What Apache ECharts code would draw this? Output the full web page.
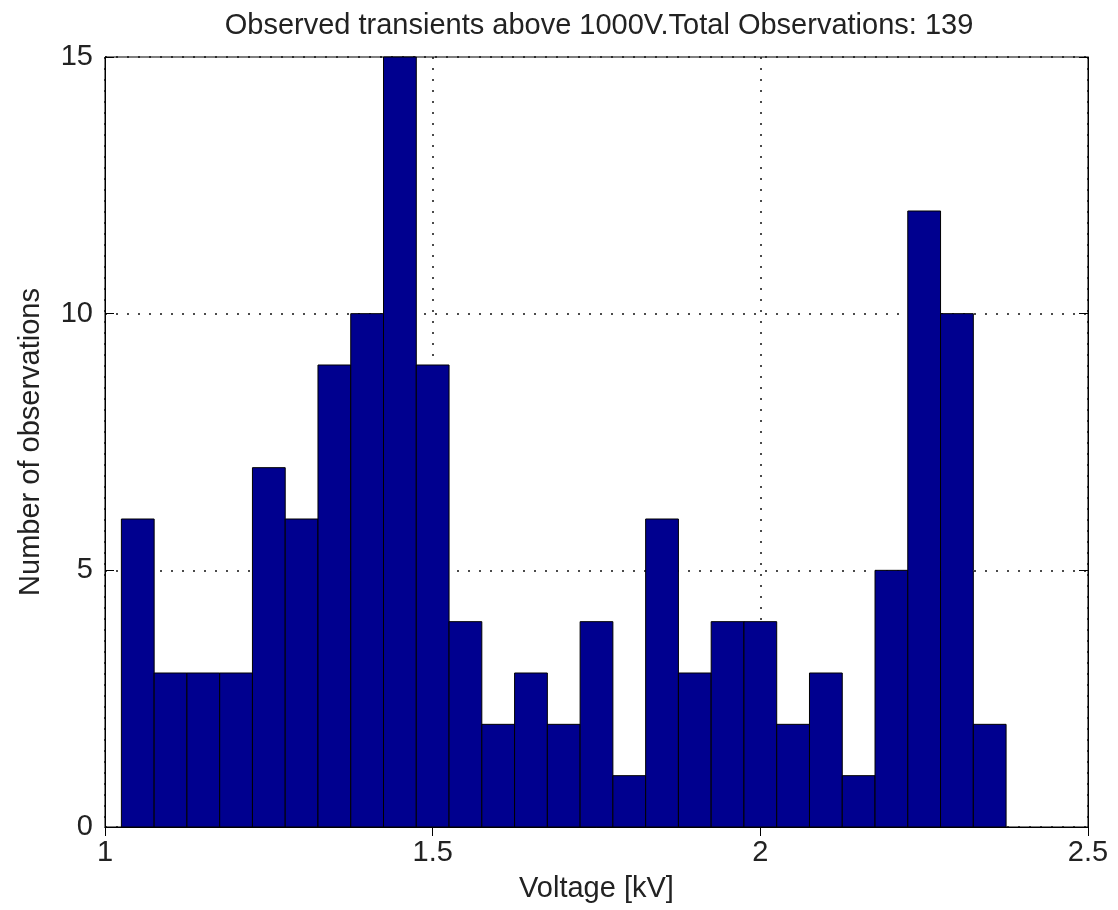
<!DOCTYPE html>
<html>
<head>
<meta charset="utf-8">
<script src="https://cdn.jsdelivr.net/npm/echarts@6/dist/echarts.min.js"></script>
<style>
  html, body { margin: 0; padding: 0; background: #fff; }
  #chart { width: 1118px; height: 910px; }
</style>
</head>
<body>
<div id="chart"></div>
<script>
// Histogram of observed transient voltages (kV), 0.05 kV bins
const binCenters = [1.05, 1.10, 1.15, 1.20, 1.25, 1.30, 1.35, 1.40, 1.45, 1.50,
                    1.55, 1.60, 1.65, 1.70, 1.75, 1.80, 1.85, 1.90, 1.95, 2.00,
                    2.05, 2.10, 2.15, 2.20, 2.25, 2.30, 2.35];
const counts = [6, 3, 3, 3, 7, 6, 9, 10, 15, 9,
                4, 2, 3, 2, 4, 1, 6, 3, 4, 4,
                2, 3, 1, 5, 12, 10, 2];
const binWidth = 0.05;
const xTicks = [1, 1.5, 2, 2.5];
const yTicks = [0, 5, 10, 15];
const titleText = 'Observed transients above 1000V.Total Observations: 139';
const xName = 'Voltage [kV]';
const yName = 'Number of observations';

const FONT = '"Liberation Sans", Arial, sans-serif';
const TXT = '#222';
const FS = 29;

const dotted = { color: '#111', width: 1.5, type: [2, 9] };

function axisBase(extra) {
  return Object.assign({
    type: 'value',
    axisLine: { show: true, lineStyle: { color: '#000', width: 1 } },
    axisTick: { show: true, inside: true, length: 9, lineStyle: { color: '#000', width: 1 } },
    splitLine: { show: false }
  }, extra);
}

const chart = echarts.init(document.getElementById('chart'), null, { renderer: 'canvas' });

chart.setOption({
  animation: false,
  backgroundColor: '#ffffff',
  title: {
    text: titleText,
    left: 594, top: 6, textAlign: 'center',
    textStyle: { fontFamily: FONT, fontSize: FS, fontWeight: 'normal', color: TXT }
  },
  grid: {
    left: 105, right: 30, top: 57, bottom: 83,
    show: true, borderColor: '#000', borderWidth: 1, backgroundColor: '#fff'
  },
  xAxis: [
    axisBase({
      position: 'bottom',
      min: xTicks[0], max: xTicks[xTicks.length - 1], interval: xTicks[1] - xTicks[0],
      name: xName, nameLocation: 'middle', nameGap: 47,
      nameTextStyle: { fontFamily: FONT, fontSize: FS, color: TXT },
      axisLabel: { fontFamily: FONT, fontSize: FS, color: TXT, margin: 11 },
      splitLine: { show: true, lineStyle: dotted }
    }),
    axisBase({
      position: 'top',
      min: xTicks[0], max: xTicks[xTicks.length - 1], interval: xTicks[1] - xTicks[0],
      axisLabel: { show: false }
    })
  ],
  yAxis: [
    axisBase({
      position: 'left',
      min: yTicks[0], max: yTicks[yTicks.length - 1], interval: yTicks[1] - yTicks[0],
      name: yName, nameLocation: 'middle', nameGap: 60, nameRotate: 90,
      nameTextStyle: { fontFamily: FONT, fontSize: FS, color: TXT },
      axisLabel: { fontFamily: FONT, fontSize: FS, color: TXT, margin: 12 },
      splitLine: { show: true, lineStyle: dotted }
    }),
    axisBase({
      position: 'right',
      min: yTicks[0], max: yTicks[yTicks.length - 1], interval: yTicks[1] - yTicks[0],
      axisLabel: { show: false }
    })
  ],
  series: [{
    type: 'custom',
    xAxisIndex: 0, yAxisIndex: 0,
    data: binCenters.map((c, i) => [c, counts[i]]),
    renderItem: function (params, api) {
      const c = api.value(0), v = api.value(1);
      const p0 = api.coord([c - binWidth / 2, v]);
      const p1 = api.coord([c + binWidth / 2, 0]);
      return {
        type: 'rect',
        shape: { x: p0[0], y: p0[1], width: p1[0] - p0[0], height: p1[1] - p0[1] },
        style: { fill: '#00008f', stroke: '#000', lineWidth: 1 }
      };
    },
    z: 5
  }]
});
</script>
</body>
</html>
